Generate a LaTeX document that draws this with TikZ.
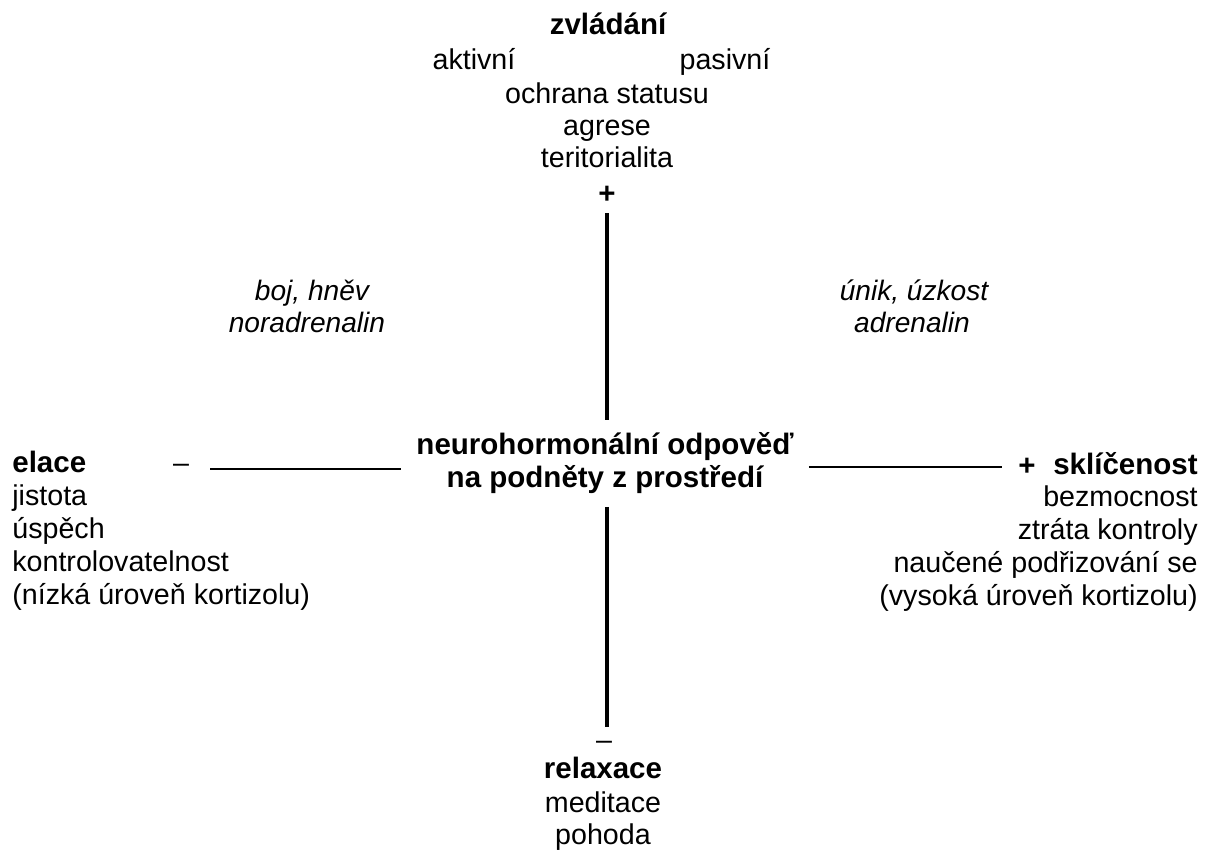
\documentclass[tikz,border=0pt]{standalone}
\usepackage{fontspec}
\setmainfont{Liberation Sans}

\tikzset{
	lbl/.style={inner sep=0pt, font=\fontsize{16.3}{19}\selectfont},
	head/.style={lbl, font=\fontsize{16.8}{19}\selectfont\bfseries},
	hormon/.style={lbl, font=\fontsize{16}{19}\selectfont\itshape},
	axis/.style={line width=2.2pt},
	arm/.style={line width=1.3pt}
}

\begin{document}
\begin{tikzpicture}[x=0.02cm,y=-0.02cm]
	\useasboundingbox (0,0) rectangle (1208,854);

	% coping, top of the axis
	\node[head, anchor=base] (zvl) at (608,35) {zvládání};
	\node[lbl, anchor=base] (akt) at (474,70) {aktivní};
	\node[lbl, anchor=base] (pas) at (725,70) {pasivní};
	\node[lbl, anchor=base] (ochr) at (607,104) {ochrana statusu};
	\node[lbl, anchor=base] (agr) at (607,136) {agrese};
	\node[lbl, anchor=base] (ter) at (607,168) {teritorialita};
	\node[head, anchor=base] (plus) at (607,204) {+};

	\node[hormon, anchor=base] (boj) at (312,301) {boj, hněv};
	\node[hormon, anchor=base] (nor) at (307,333) {noradrenalin};
	\node[hormon, anchor=base] (unik) at (914,301) {únik, úzkost};
	\node[hormon, anchor=base] (adr) at (912,333) {adrenalin};

	% centre
	\node[head, anchor=base] (neuro) at (605,455) {neurohormonální odpověď};
	\node[head, anchor=base] (pod) at (605,488) {na podněty z prostředí};

	% left side
	\node[lbl, anchor=base] (ldash) at (181,473) {–};
	\node[head, anchor=base west] (ela) at (12,473) {elace};
	\node[lbl, anchor=base west] (jis) at (12,506) {jistota};
	\node[lbl, anchor=base west] (usp) at (12,539) {úspěch};
	\node[lbl, anchor=base west] (kon) at (12,572) {kontrolovatelnost};
	\node[lbl, anchor=base west] (niz) at (12,605) {(nízká úroveň kortizolu)};

	% right side
	\node[head, anchor=base] (rplus) at (1027,476) {+};
	\node[head, anchor=base east] (skl) at (1198,475) {sklíčenost};
	\node[lbl, anchor=base east] (bez) at (1198,507) {bezmocnost};
	\node[lbl, anchor=base east] (ztr) at (1198,540) {ztráta kontroly};
	\node[lbl, anchor=base east] (nau) at (1198,573) {naučené podřizování se};
	\node[lbl, anchor=base east] (vys) at (1198,606) {(vysoká úroveň kortizolu)};

	% relaxation, bottom of the axis
	\node[lbl, anchor=base] (minus) at (604,750) {–};
	\node[head, anchor=base] (rel) at (603,779) {relaxace};
	\node[lbl, anchor=base] (med) at (603,813) {meditace};
	\node[lbl, anchor=base] (poh) at (603,845) {pohoda};

	% axes
	\draw[axis, shorten <=5pt, shorten >=7pt] (plus.south) -- (plus.south |- neuro.north);
	\draw[axis, shorten <=7pt, shorten >=8pt] (plus.south |- pod.south) -- (plus.south |- minus.north);
	\draw[arm, shorten <=12pt, shorten >=8.5pt] (ldash.east) -- (ldash.east -| neuro.west);
	\draw[arm, shorten <=8.5pt, shorten >=9pt] (neuro.east |- rplus.west) -- (rplus.west);
	\end{tikzpicture}
\end{document}
